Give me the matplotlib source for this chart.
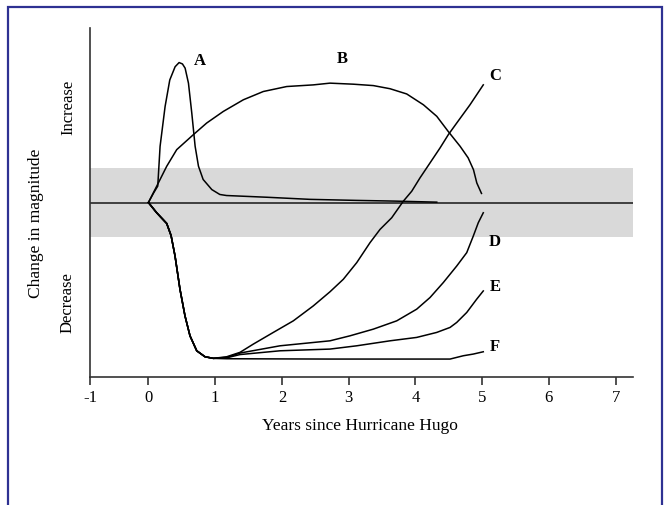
import matplotlib
matplotlib.use("Agg")
import matplotlib.pyplot as plt
from matplotlib.patches import Rectangle

# ---- data (years since Hurricane Hugo, relative change in magnitude) ----
a_x = [0.0, 0.08, 0.14, 0.175, 0.25, 0.32, 0.40, 0.46, 0.51, 0.55, 0.60, 0.65, 0.70, 0.75, 0.82, 0.95, 1.07, 1.17, 1.78, 2.42, 3.12, 3.69, 4.32]
a_y = [0.0, 0.28, 0.47, 1.61, 2.75, 3.51, 3.89, 4.01, 3.97, 3.85, 3.42, 2.56, 1.61, 1.04, 0.66, 0.37, 0.23, 0.20, 0.15, 0.09, 0.06, 0.04, 0.01]

b_x = [0.0, 0.124, 0.274, 0.424, 0.673, 0.873, 1.122, 1.422, 1.721, 2.072, 2.47, 2.72, 3.07, 3.37, 3.62, 3.87, 4.12, 4.32, 4.49, 4.67, 4.79, 4.87, 4.92, 4.99]
b_y = [0.0, 0.466, 1.037, 1.514, 1.943, 2.277, 2.609, 2.943, 3.18, 3.323, 3.37, 3.42, 3.39, 3.35, 3.26, 3.11, 2.80, 2.47, 2.04, 1.61, 1.28, 0.94, 0.56, 0.26]

# shared initial decline of curves C-F
dec_x = [0.0, 0.124, 0.274, 0.34, 0.399, 0.473, 0.548, 0.623, 0.724, 0.848, 0.972]
dec_y = [0.0, -0.294, -0.60, -0.95, -1.534, -2.486, -3.249, -3.82, -4.249, -4.42, -4.466]

c_x = [1.173, 1.372, 1.572, 1.871, 2.171, 2.47, 2.721, 2.92, 3.121, 3.32, 3.47, 3.645, 3.819, 3.945, 4.069, 4.219, 4.369, 4.493, 4.619, 4.818, 5.017]
c_y = [-4.42, -4.294, -4.057, -3.723, -3.391, -2.963, -2.557, -2.2, -1.723, -1.151, -0.771, -0.437, 0.037, 0.323, 0.706, 1.134, 1.563, 1.943, 2.277, 2.80, 3.371]

d_x = [1.173, 1.372, 1.972, 2.721, 3.02, 3.369, 3.72, 4.019, 4.219, 4.418, 4.619, 4.769, 4.867, 4.942, 5.017]
d_y = [-4.437, -4.314, -4.106, -3.963, -3.82, -3.629, -3.391, -3.057, -2.723, -2.294, -1.82, -1.437, -0.963, -0.58, -0.294]

e_x = [1.173, 1.372, 1.972, 2.721, 3.121, 3.62, 4.019, 4.319, 4.519, 4.619, 4.769, 4.918, 5.017]
e_y = [-4.45, -4.357, -4.249, -4.2, -4.106, -3.963, -3.866, -3.723, -3.58, -3.437, -3.151, -2.771, -2.534]

f_x = [1.173, 2.721, 4.519, 4.718, 4.867, 5.017]
f_y = [-4.477, -4.486, -4.486, -4.391, -4.343, -4.277]

labels = ["A", "B", "C", "D", "E", "F"]
label_x = [0.773, 2.91, 5.19, 5.19, 5.19, 5.19]
label_y = [4.086, 4.134, 3.66, -1.106, -2.391, -4.12]

band_half = 1.0
tick_pos = [-0.875, 0, 1, 2, 3, 4, 5, 6, 7]
tick_labels = ["-1", "0", "1", "2", "3", "4", "5", "6", "7"]

# ---- figure ----
serif = ["Liberation Serif", "DejaVu Serif"]
plt.rcParams["font.family"] = serif

W, H = 666, 506
fig = plt.figure(figsize=(W / 100, H / 100), dpi=100)
fig.patch.set_facecolor("white")

# blue page border
fig.patches.append(Rectangle((8 / W, -0.05), (662 - 8) / W, (506 - 8) / H + 0.05,
                             transform=fig.transFigure, fill=False,
                             edgecolor="#2e3192", linewidth=1.6))

ax = fig.add_axes([90 / W, (506 - 378) / H, (633 - 90) / W, (378 - 29) / H])
ax.set_xlim(-0.875, 7.26)
ax.set_ylim(-5, 5)

ax.axhspan(-band_half, band_half, color="#d9d9d9", linewidth=0, zorder=1)
ax.axhline(0, color="#333333", linewidth=1.3, zorder=2)

lw = 1.1
ax.plot(a_x, a_y, color="black", lw=lw, zorder=3)
ax.plot(b_x, b_y, color="black", lw=lw, zorder=3)
for cx, cy in [(c_x, c_y), (d_x, d_y), (e_x, e_y), (f_x, f_y)]:
    ax.plot(dec_x + cx, dec_y + cy, color="black", lw=lw, zorder=3)

for t, x, y in zip(labels, label_x, label_y):
    ax.text(x, y, t, fontsize=12, fontweight="bold", ha="center", va="center")

for s in ["top", "right"]:
    ax.spines[s].set_visible(False)
for s in ["left", "bottom"]:
    ax.spines[s].set_color("#333333")
    ax.spines[s].set_linewidth(1.2)

ax.set_yticks([])
ax.set_xticks(tick_pos)
ax.set_xticklabels(tick_labels, fontsize=12)
ax.tick_params(axis="x", direction="out", length=6, width=1.2, color="#333333", pad=3)

fig.text(360 / W, 1 - 426 / H, "Years since Hurricane Hugo", ha="center", va="center", fontsize=12.5)
fig.text(36 / W, 1 - 223 / H, "Change in magnitude", rotation=90, ha="center", va="center", fontsize=12.5)
fig.text(68 / W, 1 - 107 / H, "Increase", rotation=90, ha="center", va="center", fontsize=12)
fig.text(68 / W, 1 - 303 / H, "Decrease", rotation=90, ha="center", va="center", fontsize=12)

fig.savefig("out.png", dpi=100)
